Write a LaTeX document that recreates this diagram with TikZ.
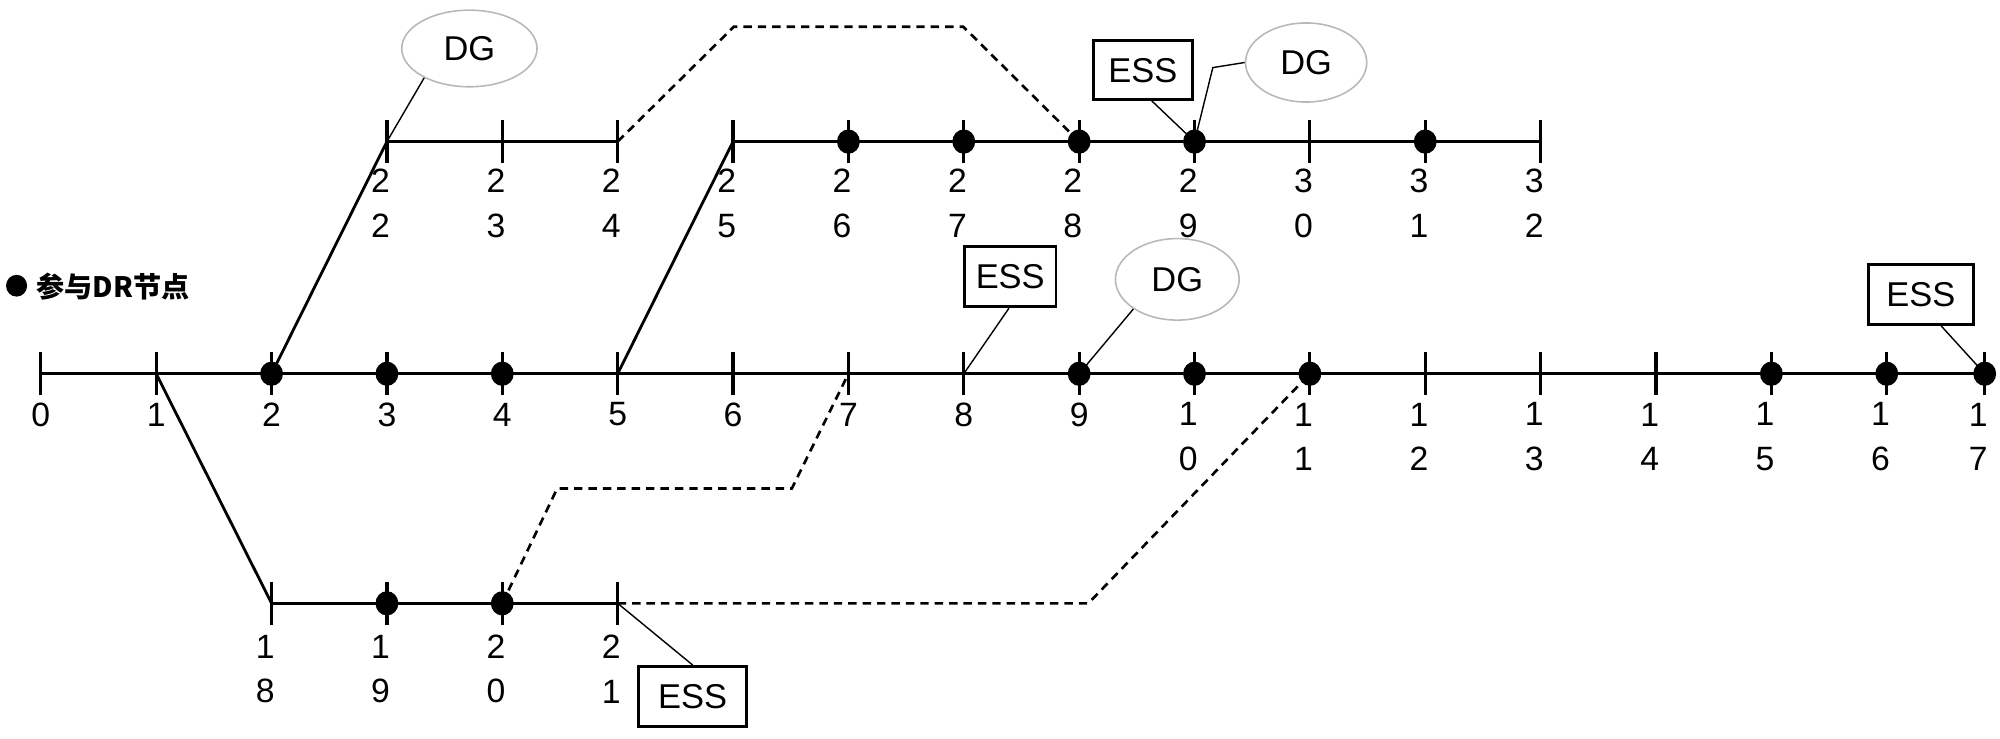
\documentclass[tikz,border=0pt]{standalone}
\usepackage{fontspec}
\setmainfont{Liberation Sans}
\newfontfamily\cjk{Noto Sans CJK SC}
\usetikzlibrary{shapes.geometric,calc}
\begin{document}
\begin{tikzpicture}[x=0.012755cm,y=-0.012755cm,
  mainline/.style={line width=0.9pt,line cap=butt},
  ticky/.style={line width=0.9pt},
  branch/.style={line width=0.8pt},
  dashline/.style={line width=0.75pt,dash pattern=on 2.4pt off 1.7pt},
  leader/.style={line width=0.4pt},
  dot/.style={ellipse,fill=black,minimum width=6.5pt,minimum height=6.9pt,inner sep=0pt},
  lbl/.style={inner sep=0pt,align=center,font=\fontsize{9.6}{12.7}\selectfont},
  dg/.style={ellipse,draw=black!28,line width=0.45pt,inner sep=0pt,font=\fontsize{9.8}{12}\selectfont},
  ess/.style={rectangle,draw=black,line width=0.8pt,inner sep=0pt,font=\fontsize{9.8}{12}\selectfont}]
\useasboundingbox (0,0) rectangle (1568,579);
% coordinates
\foreach \i in {0,...,16} \coordinate (m\i) at ({32+90.45*\i},293);
\coordinate (m17) at (1556,293);
\foreach \k in {22,...,32} \coordinate (u\k) at ({32+90.45*(\k-19)},111);
\foreach \k in {18,...,21} \coordinate (l\k) at ({32+90.45*(\k-16)},473);
% annotation nodes
\node[dg,minimum width=38.5pt,minimum height=21.8pt] (dg1) at (368,38) {DG};
\node[ess,minimum width=28.3pt,minimum height=16.7pt] (ess1) at (896,55) {ESS};
\node[dg,minimum width=34.5pt,minimum height=22.5pt] (dg2) at (1024,49) {DG};
\node[ess,minimum width=26.1pt,minimum height=17.1pt] (ess2) at (792,217) {ESS};
\node[dg,minimum width=35.2pt,minimum height=23.2pt] (dg3) at (923,219) {DG};
\node[ess,minimum width=29.8pt,minimum height=17.1pt] (ess3) at (1506,231) {ESS};
\node[ess,minimum width=30.8pt,minimum height=17.1pt] (ess4) at (543,546) {ESS};
% legend
\node[dot,minimum width=6pt,minimum height=6.2pt] (legdot) at (13,224) {};
\node[anchor=west,inner sep=0pt,font=\cjk\bfseries\fontsize{8}{10}\selectfont] (legtxt) at (28,225) {参与DR节点};
% main lines
\draw[mainline] (m0) -- (m17);
\draw[mainline] (u22) -- (u24);
\draw[mainline] (u25) -- (u32);
\draw[mainline] (l18) -- (l21);
% ticks
\foreach \n in {m0,m1,m2,m3,m4,m5,m6,m7,m8,m9,m10,m11,m12,m13,m14,m15,m16,m17,u22,u23,u24,u25,u26,u27,u28,u29,u30,u31,u32,l18,l19,l20,l21}
  \draw[ticky] (\n) ++(0,-17) -- ++(0,34);
% branches
\draw[branch] (m2) -- (u22);
\draw[branch] (m5) -- (u25);
\draw[branch] (m1) -- (l18);
% dashed ties
\draw[dashline] (u24) -- ++(91,-90) -- ++(180,0) -- (u28);
\draw[dashline] (l20) -- ++(43,-90) -- ++(184,0) -- (m7);
\draw[dashline] (l21) -- ++(369,0) -- (m11);
% leaders
\draw[leader] (dg1.213) -- (u22);
\draw[leader] ($(ess1.south)+(7,0)$) -- (u29);
\draw[leader] (dg2.west) -- ++(-25,4) -- (u29);
\draw[leader] ($(ess2.south)+(-1,0)$) -- (m8);
\draw[leader] (dg3.214) -- (m9);
\draw[leader] ($(ess3.south)+(16,0)$) -- (m17);
\draw[leader] (ess4.north) -- (l21);
% dots
\foreach \n in {m2,m3,m4,m9,m10,m11,m15,m16,m17,u26,u27,u28,u29,u31,l19,l20}
  \node[dot] (d\n) at (\n) {};
% labels
\foreach \i in {0,...,9} \node[lbl] (tm\i) at ($(m\i)+(0,32)$) {\i};
\foreach \i/\a/\b in {10/1/0,11/1/1,12/1/2,13/1/3,14/1/4,15/1/5,16/1/6,17/1/7}
  \node[lbl] (tm\i) at ($(m\i)+(-5,49.5)$) {\a\\\b};
\foreach \i/\a/\b in {22/2/2,23/2/3,24/2/4,25/2/5,26/2/6,27/2/7,28/2/8,29/2/9,30/3/0,31/3/1,32/3/2}
  \node[lbl] (tu\i) at ($(u\i)+(-5,48.5)$) {\a\\\b};
\foreach \i/\a/\b in {18/1/8,19/1/9,20/2/0,21/2/1}
  \node[lbl] (tl\i) at ($(l\i)+(-5,51.5)$) {\a\\\b};
\end{tikzpicture}
\end{document}
